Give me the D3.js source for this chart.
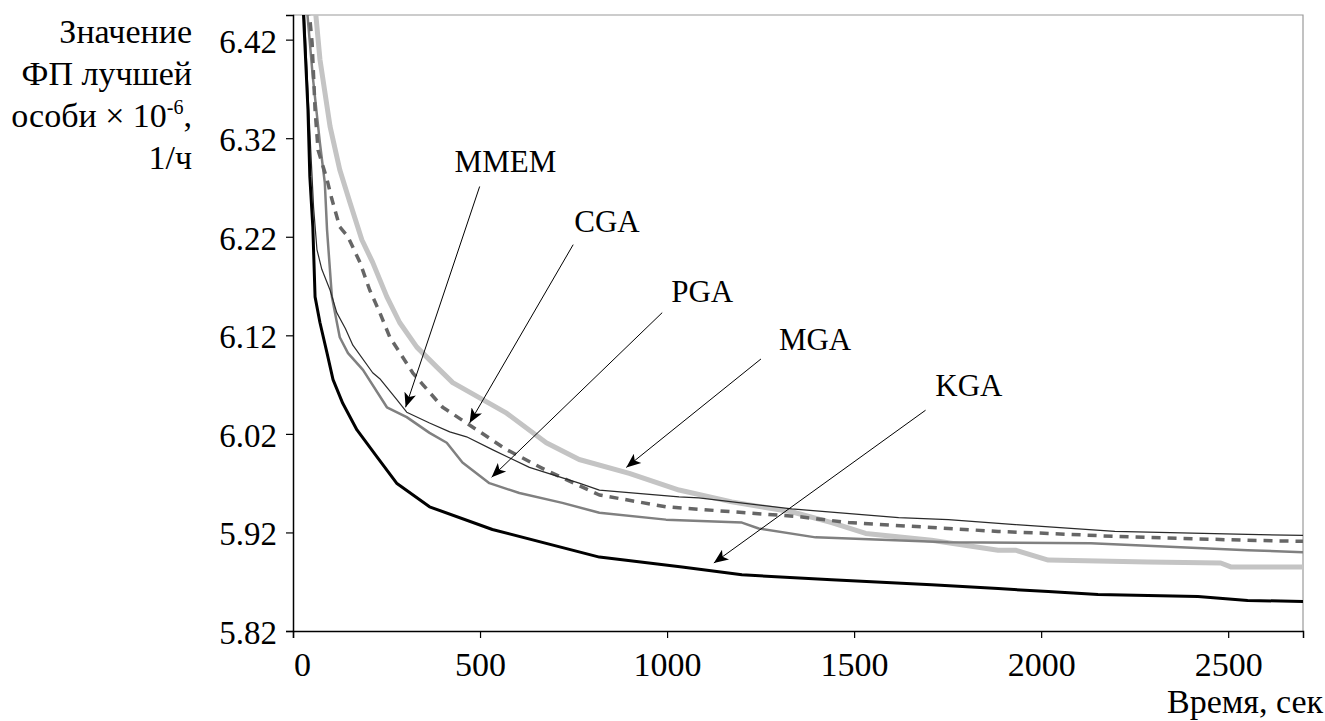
<!DOCTYPE html>
<html>
<head>
<meta charset="UTF-8">
<style>
  body { margin: 0; background: #fff; }
  svg { display: block; }
</style>
</head>
<body>
<svg id="chart"></svg>
<script src="https://d3js.org/d3.v7.min.js"></script>
<script>
// ---- data (time in sec, value x 10^-6) ----
const kgaT  = [25, 40, 45, 53, 59, 72, 91, 107, 133, 171, 224, 277, 365, 533, 819, 1040, 1200, 1440, 1707, 1885, 2019, 2152, 2419, 2552, 2700];
const kgaV  = [6.47, 6.349, 6.281, 6.230, 6.159, 6.133, 6.102, 6.075, 6.051, 6.024, 5.997, 5.970, 5.946, 5.923, 5.895, 5.885, 5.877, 5.872, 5.867, 5.863, 5.860, 5.857, 5.855, 5.851, 5.850];

const mmemT = [28, 42, 55, 64, 77, 99, 117, 140, 160, 213, 232, 277, 304, 365, 419, 464, 533, 632, 765, 819, 1032, 1085, 1333, 1619, 1752, 1931, 2197, 2552, 2700];
const mmemV = [6.47, 6.35, 6.25, 6.207, 6.187, 6.166, 6.143, 6.127, 6.110, 6.082, 6.076, 6.055, 6.042, 6.031, 6.022, 6.017, 6.004, 5.986, 5.970, 5.963, 5.956, 5.955, 5.944, 5.935, 5.933, 5.928, 5.921, 5.918, 5.917];

const pgaT  = [33, 53, 72, 85, 91, 104, 125, 147, 187, 251, 304, 365, 411, 453, 525, 605, 720, 819, 997, 1200, 1245, 1397, 1752, 2133, 2373, 2552, 2700];
const pgaV  = [6.47, 6.382, 6.315, 6.275, 6.227, 6.159, 6.118, 6.102, 6.085, 6.047, 6.037, 6.021, 6.011, 5.991, 5.970, 5.960, 5.950, 5.940, 5.933, 5.930, 5.924, 5.915, 5.910, 5.909, 5.905, 5.902, 5.900];

const cgaT  = [38, 51, 59, 67, 91, 104, 125, 147, 179, 205, 232, 259, 293, 320, 347, 400, 464, 571, 677, 819, 997, 1173, 1352, 1485, 1885, 2019, 2197, 2552, 2700];
const cgaV  = [6.47, 6.417, 6.349, 6.308, 6.278, 6.258, 6.230, 6.220, 6.194, 6.166, 6.143, 6.118, 6.098, 6.082, 6.070, 6.047, 6.031, 6.004, 5.983, 5.958, 5.946, 5.941, 5.936, 5.930, 5.921, 5.919, 5.916, 5.912, 5.911];

const mgaT  = [55, 72, 99, 125, 152, 184, 213, 251, 285, 331, 384, 427, 571, 677, 765, 899, 1032, 1173, 1333, 1440, 1531, 1707, 1885, 1931, 2019, 2285, 2480, 2507, 2700];
const mgaV  = [6.47, 6.400, 6.332, 6.288, 6.255, 6.217, 6.194, 6.159, 6.133, 6.108, 6.088, 6.072, 6.041, 6.011, 5.994, 5.980, 5.963, 5.951, 5.941, 5.930, 5.919, 5.912, 5.902, 5.902, 5.892, 5.890, 5.889, 5.885, 5.885];

const xTicks = [0, 500, 1000, 1500, 2000, 2500];
const yTicks = ["5.82", "5.92", "6.02", "6.12", "6.22", "6.32", "6.42"];

// annotation labels: name, label pos (t, v), arrow start (t, v), arrow head (t, v)
const noteNames = ["MMEM", "CGA", "PGA", "MGA", "KGA"];
const noteLabel = [[432, 6.286], [752, 6.225], [1011, 6.154], [1299, 6.105], [1717, 6.058]];
const noteFrom  = [[499, 6.271], [749, 6.212], [987, 6.143], [1251, 6.096], [1691, 6.044]];
const noteTo    = [[301, 6.047], [472, 6.031], [531, 5.976], [891, 5.986], [1125, 5.889]];

const titleLines = ["Значение", "ФП лучшей", "особи × 10", "1/ч"];

const FONT = "'Liberation Serif', 'Times New Roman', serif";

// ---- layout ----
const width = 1325, height = 721;
const margin = {top: 15, right: 22, bottom: 90, left: 293};
const innerW = width - margin.left - margin.right;
const innerH = height - margin.top - margin.bottom;

const svg = d3.select("#chart").attr("width", width).attr("height", height);

const x = d3.scaleLinear().domain([0, 2700]).range([margin.left, margin.left + innerW]);
const y = d3.scaleLinear().domain([5.82, 6.445]).range([margin.top + innerH, margin.top]);

svg.append("defs").append("clipPath").attr("id", "plotclip")
  .append("rect")
  .attr("x", margin.left).attr("y", margin.top)
  .attr("width", innerW).attr("height", innerH);

// frame: top and right in grey
svg.append("path")
  .attr("d", `M${margin.left},${margin.top}H${margin.left + innerW}V${margin.top + innerH}`)
  .attr("fill", "none").attr("stroke", "#9a9a9a").attr("stroke-width", 1.2);

// ---- series ----
const series = [
  {t: mgaT,  v: mgaV,  color: "#c4c4c4", w: 5,   dash: null},
  {t: pgaT,  v: pgaV,  color: "#808080", w: 2.5, dash: null},
  {t: cgaT,  v: cgaV,  color: "#666666", w: 3.5, dash: "9,7"},
  {t: mmemT, v: mmemV, color: "#2a2a2a", w: 1.2, dash: null},
  {t: kgaT,  v: kgaV,  color: "#000000", w: 3,   dash: null}
];

const line = d3.line().x(d => x(d[0])).y(d => y(d[1]));

svg.append("g").attr("clip-path", "url(#plotclip)")
  .selectAll("path")
  .data(series)
  .enter()
  .append("path")
  .attr("d", s => line(s.t.map((t, i) => [t, s.v[i]])))
  .attr("fill", "none")
  .attr("stroke", s => s.color)
  .attr("stroke-width", s => s.w)
  .attr("stroke-dasharray", s => s.dash)
  .attr("stroke-linejoin", "round");

// ---- axes ----
const xAxis = d3.axisBottom(x).tickValues(xTicks).tickSize(7).tickPadding(14).tickFormat(d3.format("d"));
const gx = svg.append("g").attr("transform", `translate(0,${margin.top + innerH})`).call(xAxis);
gx.select(".domain").attr("stroke", "#000").attr("stroke-width", 1.5);
gx.selectAll(".tick line").attr("stroke", "#000").attr("stroke-width", 1.2);
gx.selectAll(".tick text").attr("fill", "#000")
  .style("font-family", FONT).style("font-size", "34px");
gx.selectAll(".tick text").filter(d => d === 0).attr("dx", 9);

const yAxis = d3.axisLeft(y).tickValues(yTicks.map(Number)).tickSize(7).tickPadding(9).tickFormat(d3.format(".2f"));
const gy = svg.append("g").attr("transform", `translate(${margin.left},0)`).call(yAxis);
gy.select(".domain").attr("stroke", "#000").attr("stroke-width", 1.5);
gy.selectAll(".tick line").attr("stroke", "#000").attr("stroke-width", 1.2);
gy.selectAll(".tick text").attr("fill", "#000").attr("dy", "0.38em")
  .style("font-family", FONT).style("font-size", "33px");

// ---- axis titles ----
titleLines.forEach((t, i) => {
  const tx = svg.append("text").attr("x", 192).attr("y", 43 + i * 42)
    .attr("text-anchor", "end").attr("fill", "#000")
    .style("font-family", FONT).style("font-size", "34px");
  if (i === 2) {
    tx.append("tspan").text(t);
    tx.append("tspan").attr("dy", -13).style("font-size", "20px").text("-6");
    tx.append("tspan").attr("dy", 13).text(",");
  } else {
    tx.text(t);
  }
});

svg.append("text")
  .attr("x", width - 2).attr("y", 713)
  .attr("text-anchor", "end").attr("fill", "#000")
  .style("font-family", FONT).style("font-size", "34px")
  .text("Время, сек");

// ---- annotations ----
svg.append("defs").append("marker")
  .attr("id", "arrow")
  .attr("viewBox", "0 -5 12 10")
  .attr("refX", 12).attr("refY", 0)
  .attr("markerWidth", 18).attr("markerHeight", 12)
  .attr("markerUnits", "userSpaceOnUse")
  .attr("orient", "auto")
  .append("path")
  .attr("d", "M0,-5L12,0L0,5L3,0Z")
  .attr("fill", "#000");

const notes = svg.append("g");
noteNames.forEach((n, i) => {
  notes.append("line")
    .attr("x1", x(noteFrom[i][0])).attr("y1", y(noteFrom[i][1]))
    .attr("x2", x(noteTo[i][0])).attr("y2", y(noteTo[i][1]))
    .attr("stroke", "#000").attr("stroke-width", 1)
    .attr("marker-end", "url(#arrow)");
  notes.append("text")
    .attr("x", x(noteLabel[i][0])).attr("y", y(noteLabel[i][1]))
    .attr("fill", "#000")
    .style("font-family", FONT).style("font-size", "31px")
    .text(n);
});
</script>
</body>
</html>
